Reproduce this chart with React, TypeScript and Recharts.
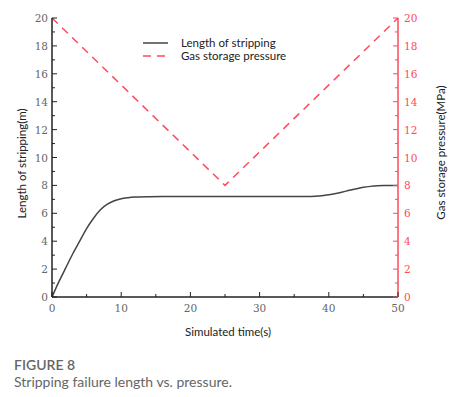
import { LineChart, Line, XAxis, YAxis } from "recharts";

const timeSec = [0, 1, 2, 3, 4, 5, 6, 7, 8, 9, 10, 11, 12, 14, 16, 20, 25, 30, 35, 37, 38, 39, 40, 41, 42, 43, 44, 45, 46, 47, 48, 50];
const stripLength = [0, 1.1, 2.1, 3.1, 4.0, 4.9, 5.65, 6.25, 6.65, 6.9, 7.05, 7.12, 7.16, 7.19, 7.2, 7.2, 7.2, 7.2, 7.2, 7.2, 7.22, 7.26, 7.33, 7.42, 7.53, 7.65, 7.76, 7.86, 7.93, 7.98, 8, 8];
const pressureTime = [0, 25, 50];
const pressureVal = [20, 8, 20];

const xTicks = [0, 5, 10, 15, 20, 25, 30, 35, 40, 45, 50];
const yTicks = [0, 1, 2, 3, 4, 5, 6, 7, 8, 9, 10, 11, 12, 13, 14, 15, 16, 17, 18, 19, 20];
const seriesNames = ["Length of stripping", "Gas storage pressure"];

const RED = "#ff4a5c";
const DARK = "#444";

const data = (() => {
  const rows: any[] = timeSec.map((t, i) => ({ t, len: stripLength[i] }));
  pressureTime.forEach((t, i) => {
    const row = rows.find((r) => r.t === t);
    if (row) row.p = pressureVal[i];
    else rows.push({ t, p: pressureVal[i] });
  });
  return rows.sort((a, b) => a.t - b.t);
})();

const tickFont = { fontFamily: "DejaVu Serif", fontSize: 10.5 };
const sans = "Lato";

const LeftTick = (props: any) => {
  const { x, y, payload } = props;
  const ax = x + 4;
  const major = payload.value % 2 === 0;
  return (
    <g>
      <line x1={ax} x2={ax + (major ? 5 : 3)} y1={y} y2={y} stroke="#222" />
      {major && (
        <text x={x} y={y} dy={4} textAnchor="end" fill="#666" {...tickFont}>
          {payload.value}
        </text>
      )}
    </g>
  );
};

const RightTick = (props: any) => {
  const { x, y, payload } = props;
  const ax = x - 6;
  const major = payload.value % 2 === 0;
  return (
    <g>
      <line x1={ax} x2={ax - (major ? 5 : 3)} y1={y} y2={y} stroke={RED} />
      {major && (
        <text x={x} y={y} dy={4} textAnchor="start" fill={RED} {...tickFont}>
          {payload.value}
        </text>
      )}
    </g>
  );
};

const BottomTick = (props: any) => {
  const { x, y, payload } = props;
  const ay = y - 8;
  const major = payload.value % 10 === 0;
  return (
    <g>
      <line x1={x} x2={x} y1={ay} y2={ay - (major ? 5 : 3)} stroke="#222" />
      {major && (
        <text x={x} y={y} dy="0.71em" textAnchor="middle" fill="#666" {...tickFont}>
          {payload.value}
        </text>
      )}
    </g>
  );
};

export default function App() {
  return (
    <div style={{ position: "absolute", left: 0, top: 0, width: 451, height: 397, background: "#fff" }}>
      <LineChart width={451} height={345} data={data} margin={{ top: 18, right: 13, left: 12, bottom: 18 }}>
        <XAxis
          dataKey="t"
          type="number"
          domain={[0, 50]}
          ticks={xTicks}
          height={30}
          tickSize={0}
          tickMargin={8}
          tickLine={false}
          axisLine={{ stroke: "#222", strokeWidth: 1.5 }}
          tick={<BottomTick />}
          interval={0}
          label={{
            content: ({ viewBox }: any) => (
              <text
                x={viewBox.x + viewBox.width / 2 + 3}
                y={viewBox.y + 35}
                dy={4}
                textAnchor="middle"
                fontFamily={sans}
                fontSize={11.5}
                fill="#222"
              >
                Simulated time(s)
              </text>
            ),
          }}
        />
        <YAxis
          yAxisId="left"
          type="number"
          domain={[0, 20]}
          ticks={yTicks}
          width={40}
          tickSize={0}
          tickMargin={4}
          tickLine={false}
          interval={0}
          axisLine={{ stroke: "#222", strokeWidth: 1.5 }}
          tick={<LeftTick />}
          label={{
            content: ({ viewBox }: any) => {
              const cx = viewBox.x + 10;
              const cy = viewBox.y + viewBox.height / 2 + 6;
              return (
                <text
                  x={cx}
                  y={cy}
                  dy={4}
                  transform={`rotate(-90 ${cx} ${cy})`}
                  textAnchor="middle"
                  fontFamily={sans}
                  fontSize={11.5}
                  fill="#222"
                >
                  Length of stripping(m)
                </text>
              );
            },
          }}
        />
        <YAxis
          yAxisId="right"
          orientation="right"
          type="number"
          domain={[0, 20]}
          ticks={yTicks}
          width={40}
          tickSize={0}
          tickMargin={6}
          tickLine={false}
          interval={0}
          axisLine={{ stroke: RED, strokeWidth: 1.5 }}
          tick={<RightTick />}
          label={{
            content: ({ viewBox }: any) => {
              const cx = viewBox.x + 43;
              const cy = viewBox.y + viewBox.height / 2 - 5;
              return (
                <text
                  x={cx}
                  y={cy}
                  dy={4}
                  transform={`rotate(-90 ${cx} ${cy})`}
                  textAnchor="middle"
                  fontFamily={sans}
                  fontSize={11.5}
                  fill="#222"
                >
                  Gas storage pressure(MPa)
                </text>
              );
            },
          }}
        />
        <Line
          yAxisId="left"
          dataKey="len"
          name={seriesNames[0]}
          type="monotone"
          stroke={DARK}
          strokeWidth={1.5}
          dot={false}
          connectNulls
          isAnimationActive={false}
        />
        <Line
          yAxisId="right"
          dataKey="p"
          name={seriesNames[1]}
          type="linear"
          stroke={RED}
          strokeWidth={1.5}
          strokeDasharray="8 6"
          dot={false}
          connectNulls
          isAnimationActive={false}
        />
      </LineChart>
      {/* legend drawn outside the chart so it does not shrink the plot */}
      <svg width={160} height={30} style={{ position: "absolute", left: 140, top: 36 }}>
        <line x1={3} x2={28} y1={7} y2={7} stroke={DARK} strokeWidth={1.5} />
        <line x1={3} x2={28} y1={20} y2={20} stroke={RED} strokeWidth={1.5} strokeDasharray="8 6" />
        <text x={41} y={7} dy={4} fontFamily={sans} fontSize={11.5} fill="#222">{seriesNames[0]}</text>
        <text x={41} y={20} dy={4} fontFamily={sans} fontSize={11.5} fill="#222">{seriesNames[1]}</text>
      </svg>
      <div
        style={{
          position: "absolute",
          left: 14,
          top: 356,
          fontFamily: sans,
          fontSize: 14,
          fontWeight: 600,
          color: "#666",
          lineHeight: "18px",
        }}
      >
        FIGURE 8
      </div>
      <div
        style={{
          position: "absolute",
          left: 14,
          top: 373,
          fontFamily: sans,
          fontSize: 14,
          color: "#666",
          lineHeight: "18px",
        }}
      >
        Stripping failure length vs. pressure.
      </div>
    </div>
  );
}
